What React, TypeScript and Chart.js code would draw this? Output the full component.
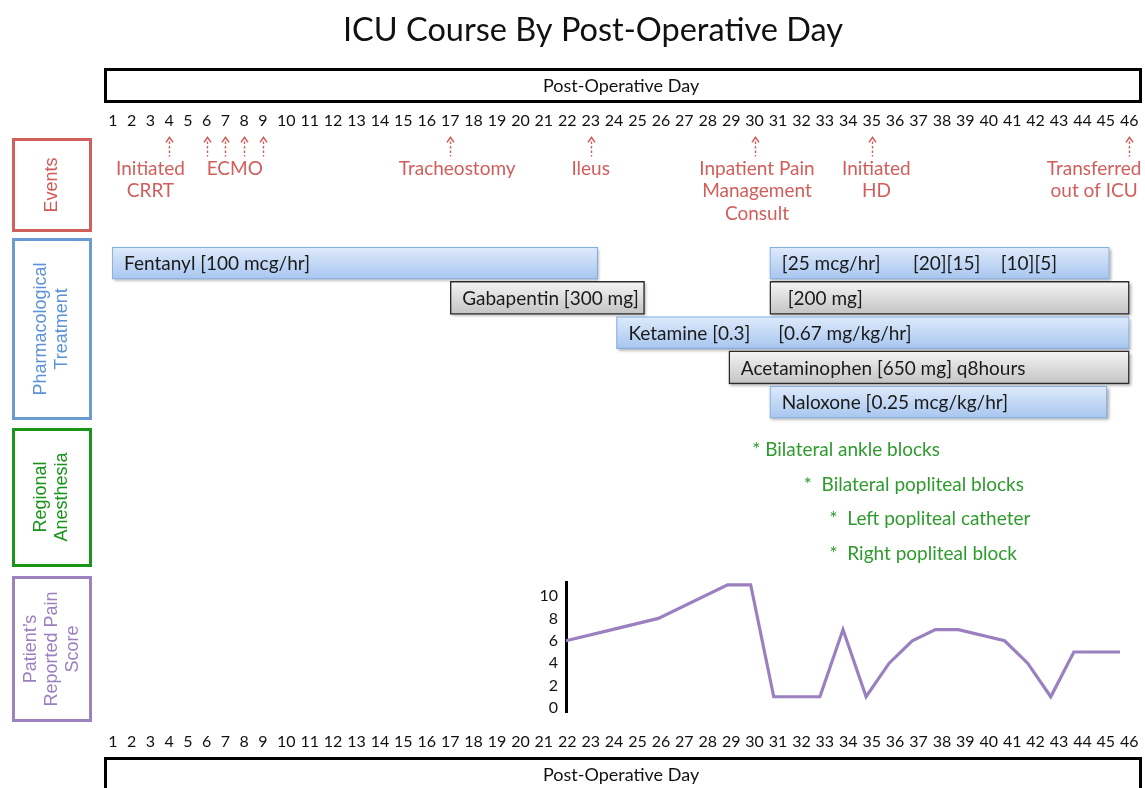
import React, { useEffect, useRef } from 'react';
import { Chart, registerables, LinearScale } from 'chart.js';

Chart.register(...registerables);

// ---------------- data ----------------
const dayTicks = [1, 2, 3, 4, 5, 6, 7, 8, 9, 10, 11, 12, 13, 14, 15, 16, 17, 18, 19, 20, 21, 22, 23,
  24, 25, 26, 27, 28, 29, 30, 31, 32, 33, 34, 35, 36, 37, 38, 39, 40, 41, 42, 43, 44, 45, 46];

const eventDays = [4, 6, 7, 8, 9, 17, 23, 30, 35, 46];
const eventLabels = [
  ['Initiated', 'CRRT'],
  ['ECMO'],
  ['Tracheostomy'],
  ['Ileus'],
  ['Inpatient Pain', 'Management', 'Consult'],
  ['Initiated', 'HD'],
  ['Transferred', 'out of ICU'],
];
const eventLabelDays = [3, 7.5, 17.3, 23, 30.1, 35.2, 44.5];

const pharmRows = ['Fentanyl', 'Gabapentin', 'Ketamine', 'Acetaminophen', 'Naloxone'];
const infusionRows = ['Fentanyl', 'Fentanyl', 'Ketamine', 'Naloxone'];
const infusionStart = [0.95, 30.65, 24.1, 30.65];
const infusionEnd = [23.3, 45.15, 46, 45.05];
const scheduledRows = ['Gabapentin', 'Gabapentin', 'Acetaminophen'];
const scheduledStart = [17, 30.65, 28.9];
const scheduledEnd = [25.3, 46, 46];

const doseRows = ['Fentanyl', 'Fentanyl', 'Fentanyl', 'Fentanyl', 'Gabapentin', 'Gabapentin',
  'Ketamine', 'Ketamine', 'Acetaminophen', 'Naloxone'];
const doseDays = [0.95, 30.65, 36.25, 40, 17, 30.9, 24.1, 30.5, 28.9, 30.65];
const doseTexts = ['Fentanyl [100 mcg/hr]', '[25 mcg/hr]', '[20][15]', '[10][5]', 'Gabapentin [300 mg]',
  '[200 mg]', 'Ketamine [0.3]', '[0.67 mg/kg/hr]', 'Acetaminophen [650 mg] q8hours', 'Naloxone [0.25 mcg/kg/hr]'];

const regionalBlocks = ['* Bilateral ankle blocks', '*  Bilateral popliteal blocks',
  '*  Left popliteal catheter', '*  Right popliteal block'];
const regionalDays = [29.9, 32.1, 33.2, 33.2];

const painDays = [22, 24, 26, 29, 30, 31, 33, 34, 35, 36, 37, 38, 39, 41, 42, 43, 44, 46];
const painScores = [6, 7, 8, 11, 11, 1, 1, 7, 1, 4, 6, 7, 7, 6, 4, 1, 5, 5];
const painTicks = [0, 2, 4, 6, 8, 10];

const sectionNames = [
  ['Events'],
  ['Pharmacological', 'Treatment'],
  ['Regional', 'Anesthesia'],
  ['Patient\u2019s', 'Reported Pain', 'Score'],
];

const chartTitle = 'ICU Course By Post-Operative Day';
const axisTitle = 'Post-Operative Day';

// ---------------- style ----------------
const SANS = 'Lato, "Open Sans", sans-serif';
const BOX_FONT = '"Liberation Sans", Arial, sans-serif';
const EVENT_RED = '#D15E5A';
const REGIONAL_GREEN = '#2E9B2E';
const PAIN_PURPLE = '#9B80C0';
const BAR_H = 32;

const sectionStyles = [
  { color: '#D0605C', text: '#D05A57', top: 138, bottom: 232, cy: 185 },
  { color: '#6A9BD3', text: '#5B93D6', top: 238, bottom: 420, cy: 329 },
  { color: '#1A961A', text: '#19941A', top: 428, bottom: 567, cy: 497 },
  { color: '#9C82BF', text: '#9B80C0', top: 576, bottom: 722, cy: 649 },
];

// Day axis: the single-digit days are set closer together than the two-digit days.
const COMPACT_UNTIL = 9;
const COMPACT_RATIO = 0.8;
const toUnit = (v: number) => (v <= COMPACT_UNTIL ? v * COMPACT_RATIO : COMPACT_UNTIL * COMPACT_RATIO + (v - COMPACT_UNTIL));
const fromUnit = (u: number) => {
  const k = COMPACT_UNTIL * COMPACT_RATIO;
  return u <= k ? u / COMPACT_RATIO : COMPACT_UNTIL + (u - k);
};

class DayScale extends LinearScale {
  static id = 'day';
  static defaults = LinearScale.defaults;
  getPixelForValue(value: any) {
    if (value === null || value === undefined || isNaN(value)) return NaN;
    const a = toUnit((this as any).min);
    const b = toUnit((this as any).max);
    return (this as any).getPixelForDecimal((toUnit(value) - a) / (b - a));
  }
  getValueForPixel(pixel: number) {
    const a = toUnit((this as any).min);
    const b = toUnit((this as any).max);
    return fromUnit(a + (this as any).getDecimalForPixel(pixel) * (b - a));
  }
}
Chart.register(DayScale as any);

function barGradient(top: string, bottom: string, fallback: string) {
  return (c: any) => {
    const chart = c.chart;
    const ys = chart.scales && chart.scales.yPharm;
    if (c.type !== 'data' || !ys || !c.parsed) return fallback;
    const yc = ys.getPixelForValue(c.parsed.y);
    if (!isFinite(yc)) return fallback;
    const g = chart.ctx.createLinearGradient(0, yc - BAR_H / 2, 0, yc + BAR_H / 2);
    g.addColorStop(0, top);
    g.addColorStop(1, bottom);
    return g;
  };
}

const barShadow = {
  id: 'barShadow',
  beforeDatasetsDraw(chart: any) {
    const ctx = chart.ctx;
    chart.data.datasets.forEach((_: any, di: number) => {
      const meta = chart.getDatasetMeta(di);
      meta.data.forEach((el: any) => {
        const { x, y, base, height } = el.getProps(['x', 'y', 'base', 'height'], true);
        ctx.save();
        ctx.shadowColor = 'rgba(0,0,0,0.35)';
        ctx.shadowBlur = 3;
        ctx.shadowOffsetX = 1.5;
        ctx.shadowOffsetY = 2;
        ctx.fillStyle = '#ffffff';
        ctx.fillRect(Math.min(x, base), y - height / 2, Math.abs(x - base), height);
        ctx.restore();
      });
    });
  },
};

const decorations = {
  id: 'decorations',
  afterDraw(chart: any) {
    const ctx = chart.ctx;
    const xs = chart.scales.x;
    const yEv = chart.scales.yEvents;
    const yPh = chart.scales.yPharm;
    const yRg = chart.scales.yRegional;
    ctx.save();

    // title
    ctx.fillStyle = '#111';
    ctx.font = `32.5px ${SANS}`;
    ctx.textAlign = 'center';
    ctx.textBaseline = 'middle';
    ctx.fillText(chartTitle, 593, 31);

    // boxes around the axis titles
    ctx.strokeStyle = '#000';
    ctx.lineWidth = 3;
    ctx.strokeRect(105.5, 69.5, 1035, 32);
    ctx.strokeRect(105.5, 758.5, 1035, 40);

    // section boxes
    sectionStyles.forEach((s, i) => {
      ctx.strokeStyle = s.color;
      ctx.lineWidth = 3;
      ctx.strokeRect(13.5, s.top + 1.5, 77, s.bottom - s.top - 3);
      ctx.save();
      ctx.translate(52, s.cy);
      ctx.rotate(-Math.PI / 2);
      ctx.fillStyle = s.text;
      ctx.font = `18px ${BOX_FONT}`;
      ctx.textAlign = 'center';
      ctx.textBaseline = 'middle';
      const lines = sectionNames[i];
      lines.forEach((ln, k) => {
        ctx.fillText(ln, 0, (k - (lines.length - 1) / 2) * 21);
      });
      ctx.restore();
    });

    // events
    const evTop = yEv.top;
    ctx.strokeStyle = EVENT_RED;
    ctx.fillStyle = EVENT_RED;
    eventDays.forEach((d) => {
      const x = Math.round(xs.getPixelForValue(d)) + 0.5;
      const tip = evTop + 1;
      ctx.setLineDash([2.5, 2]);
      ctx.lineWidth = 1.4;
      ctx.beginPath();
      ctx.moveTo(x, tip + 4);
      ctx.lineTo(x, tip + 19);
      ctx.stroke();
      ctx.setLineDash([]);
      ctx.lineWidth = 1.6;
      ctx.beginPath();
      ctx.moveTo(x - 3.5, tip + 5);
      ctx.lineTo(x, tip);
      ctx.lineTo(x + 3.5, tip + 5);
      ctx.stroke();
    });
    ctx.font = `19px ${SANS}`;
    ctx.textBaseline = 'middle';
    eventLabels.forEach((lines, i) => {
      const x = xs.getPixelForValue(eventLabelDays[i]);
      ctx.textAlign = 'center';
      lines.forEach((ln, k) => ctx.fillText(ln, x, evTop + 32 + k * 22.5));
    });

    // dose labels in the treatment bars
    ctx.fillStyle = '#1a1a1a';
    ctx.font = `19px ${SANS}`;
    ctx.textAlign = 'left';
    doseTexts.forEach((t, i) => {
      const x = xs.getPixelForValue(doseDays[i]) + 12;
      const y = yPh.getPixelForValue(pharmRows.indexOf(doseRows[i]));
      ctx.fillText(t, x, y + 1);
    });

    // regional anesthesia
    ctx.fillStyle = REGIONAL_GREEN;
    regionalBlocks.forEach((t, i) => {
      const x = xs.getPixelForValue(regionalDays[i]);
      const y = yRg.getPixelForValue(i);
      ctx.fillText(t, x, y + 1.5);
    });

    ctx.restore();
  },
};

const tickFont = { family: SANS, size: 16 };
const titleFont = { family: SANS, size: 18 };

function dayAxis(position: 'top' | 'bottom') {
  return {
    type: 'day',
    position,
    min: 0.52,
    max: 46.38,
    grid: { display: false, drawTicks: false },
    border: { display: false },
    afterBuildTicks: (s: any) => {
      s.ticks = dayTicks.map((v) => ({ value: v }));
    },
    ticks: { autoSkip: false, maxRotation: 0, minRotation: 0, padding: 6.4, font: tickFont, color: '#111' },
    title: {
      display: true,
      text: axisTitle,
      font: titleFont,
      color: '#111',
      padding: position === 'top' ? { top: 6, bottom: 7.6 } : { top: 6.6, bottom: 0 },
    },
  };
}

function band(weight: number, extra: any = {}) {
  return { type: 'linear', position: 'right', stack: 'rows', stackWeight: weight, display: false, min: 0, max: 1, ...extra };
}

export default function App() {
  const mainRef = useRef<HTMLCanvasElement>(null);
  const painRef = useRef<HTMLCanvasElement>(null);

  useEffect(() => {
    const main = new Chart(mainRef.current as HTMLCanvasElement, {
      type: 'bar',
      data: {
        datasets: [
          {
            label: 'Infusions',
            data: infusionRows.map((r, i) => ({ y: r, x: [infusionStart[i], infusionEnd[i]] })),
            xAxisID: 'x',
            yAxisID: 'yPharm',
            backgroundColor: barGradient('#DFEAFB', '#A7C6EF', '#C4D9F5'),
            borderColor: '#86AEE0',
            borderWidth: 1.2,
            borderSkipped: false,
            barThickness: BAR_H,
            grouped: false,
          },
          {
            label: 'Scheduled',
            data: scheduledRows.map((r, i) => ({ y: r, x: [scheduledStart[i], scheduledEnd[i]] })),
            xAxisID: 'x',
            yAxisID: 'yPharm',
            backgroundColor: barGradient('#F4F4F4', '#C4C4C4', '#DDDDDD'),
            borderColor: '#2a2a2a',
            borderWidth: 1.5,
            borderSkipped: false,
            barThickness: BAR_H + 1,
            grouped: false,
          },
        ],
      } as any,
      options: {
        indexAxis: 'y',
        responsive: false,
        animation: false,
        layout: { padding: { left: 104, right: 3, top: 69.2, bottom: 2.2 } },
        plugins: { legend: { display: false }, tooltip: { enabled: false }, title: { display: false } },
        scales: {
          x: dayAxis('top'),
          x2: dayAxis('bottom'),
          yEvents: band(109.5),
          yPharm: band(174, { type: 'category', labels: pharmRows, offset: true, min: undefined, max: undefined }),
          yGap: band(11.5),
          yRegional: band(139, { type: 'category', labels: regionalBlocks, offset: true, min: undefined, max: undefined }),
          yPain: band(156),
        },
      } as any,
      plugins: [barShadow, decorations],
    });

    const pain = new Chart(painRef.current as HTMLCanvasElement, {
      type: 'line',
      data: {
        datasets: [
          {
            label: 'Patient\u2019s Reported Pain Score',
            data: painDays.map((d, i) => ({ x: d, y: painScores[i] })),
            borderColor: PAIN_PURPLE,
            borderWidth: 3.2,
            pointRadius: 0,
            tension: 0,
            fill: false,
            clip: false,
          },
        ],
      } as any,
      options: {
        responsive: false,
        animation: false,
        layout: { padding: { left: 0, right: 12, top: 20, bottom: 20 } },
        plugins: { legend: { display: false }, tooltip: { enabled: false } },
        scales: {
          x: { type: 'linear', min: 22, max: 46, display: false },
          y: {
            type: 'linear',
            min: -0.36,
            max: 11.25,
            afterBuildTicks: (s: any) => {
              s.ticks = painTicks.map((v) => ({ value: v }));
            },
            afterFit: (s: any) => {
              s.width = 40;
            },
            grid: { display: false, drawTicks: false },
            border: { display: true, color: '#000', width: 3 },
            ticks: { padding: 8, font: tickFont, color: '#111' },
          },
        },
      } as any,
    });

    return () => {
      main.destroy();
      pain.destroy();
    };
  }, []);

  return (
    <div style={{ position: 'absolute', left: 0, top: 0, width: 1145, height: 788, background: '#fff', overflow: 'hidden' }}>
      <canvas ref={mainRef} width={1145} height={788} style={{ position: 'absolute', left: 0, top: 0 }} />
      <canvas ref={painRef} width={606} height={170} style={{ position: 'absolute', left: 526, top: 562 }} />
    </div>
  );
}
